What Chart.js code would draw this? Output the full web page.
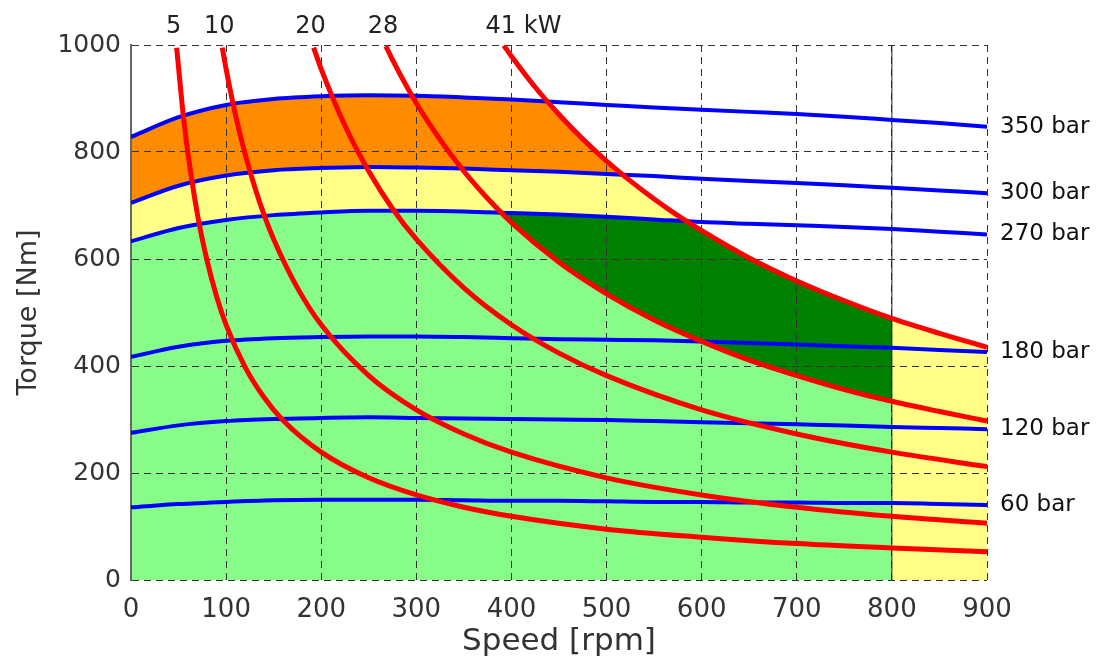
<!DOCTYPE html>
<html>
<head>
<meta charset="utf-8">
<title>Torque / speed map</title>
<script src="https://cdn.jsdelivr.net/npm/chart.js@4.4.1/dist/chart.umd.min.js"></script>
<style>
  html, body { margin: 0; padding: 0; background: #fff; }
</style>
</head>
<body>
<canvas id="torqueChart" width="1105" height="656"></canvas>
<script>
// speed grid of the pressure curves [rpm]
var speeds = [0, 50, 100, 150, 200, 250, 300, 350, 400, 450, 500, 550, 600, 650, 700, 750, 800, 850, 900];

// torque at constant pressure [Nm]
var bar350 = [828, 865, 888, 899, 904, 906, 905, 902, 898, 893, 888, 883, 879, 875, 871, 866, 860, 854, 847];
var bar300 = [705, 737, 756, 766, 770, 772, 771, 769, 766, 763, 759, 755, 750, 746, 742, 738, 733, 728, 723];
var bar270 = [633, 658, 673, 682, 687, 690, 690, 689, 686, 683, 679, 674, 669, 666, 663, 660, 656, 651, 646];
var bar180 = [417, 436, 447, 452, 454, 455, 455, 454, 452, 450, 449, 448, 446, 443, 440, 437, 434, 430, 426];
var bar120 = [275, 289, 297, 301, 303, 304, 303, 302, 301, 300, 299, 297, 295, 293, 291, 289, 286, 284, 282];
var bar60  = [136, 142, 146, 149, 150, 150, 150, 149, 148, 148, 147, 146, 146, 145, 145, 144, 144, 142, 140];

// constant power lines
var kw5Speed   = [48, 55, 60, 70, 80, 90, 100, 120, 140, 160, 200, 250, 300, 350, 400, 500, 600, 700, 800, 900];
var kw5Torque  = [995, 868, 796, 682, 597, 530, 477, 398, 341, 298, 239, 191, 159, 136, 119, 95, 80, 68, 60, 53];
var kw10Speed  = [96, 100, 110, 120, 130, 140, 150, 175, 200, 250, 300, 350, 400, 500, 600, 700, 800, 900];
var kw10Torque = [995, 955, 868, 796, 735, 682, 637, 546, 477, 382, 318, 273, 239, 191, 159, 136, 119, 106];
var kw20Speed  = [192, 200, 225, 250, 275, 300, 350, 400, 450, 500, 600, 700, 800, 900];
var kw20Torque = [995, 955, 849, 764, 694, 637, 546, 477, 424, 382, 318, 273, 239, 212];
var kw28Speed  = [268, 275, 300, 325, 350, 375, 400, 450, 500, 550, 600, 650, 700, 750, 800, 850, 900];
var kw28Torque = [998, 972, 891, 823, 764, 713, 668, 594, 535, 486, 446, 411, 382, 356, 334, 315, 297];
var kw41Speed  = [392, 400, 425, 450, 475, 500, 525, 550, 575, 600, 650, 700, 750, 800, 850, 900];
var kw41Torque = [999, 979, 921, 870, 824, 783, 746, 712, 681, 653, 602, 559, 522, 489, 461, 435];

var powerValues = [5, 10, 20, 28, 41];
var pressureLabels = ['350 bar', '300 bar', '270 bar', '180 bar', '120 bar', '60 bar'];
var ratedSpeed = 800;

var xTicks = [0, 100, 200, 300, 400, 500, 600, 700, 800, 900];
var yTicks = [0, 200, 400, 600, 800, 1000];

var font = 'DejaVu Sans';

function pts(xs, ys) {
  return xs.map(function (x, i) { return { x: x, y: ys[i] }; });
}
function upTo(points, xmax) {
  return points.filter(function (p) { return p.x <= xmax; });
}

var powerCurves = [
  { kw: powerValues[0], speed: kw5Speed, torque: kw5Torque },
  { kw: powerValues[1], speed: kw10Speed, torque: kw10Torque },
  { kw: powerValues[2], speed: kw20Speed, torque: kw20Torque },
  { kw: powerValues[3], speed: kw28Speed, torque: kw28Torque },
  { kw: powerValues[4], speed: kw41Speed, torque: kw41Torque }
];
var pressureCurves = [bar350, bar300, bar270, bar180, bar120, bar60].map(function (t, i) {
  return { label: pressureLabels[i], torque: t };
});

var datasets = [];

// red power lines (drawn on top)
powerCurves.forEach(function (c, i) {
  var last = i === powerCurves.length - 1;
  datasets.push({
    label: c.kw + ' kW',
    data: pts(c.speed, c.torque),
    borderColor: '#ff0000',
    borderWidth: 5,
    pointRadius: 0,
    cubicInterpolationMode: 'monotone',
    // everything above the highest power line is left white
    fill: last ? 'end' : false,
    backgroundColor: '#ffffff',
    order: 0
  });
});
var kw28Index = 3;

// blue pressure lines
pressureCurves.forEach(function (c) {
  datasets.push({
    label: c.label,
    data: pts(speeds, c.torque),
    borderColor: '#0000ff',
    borderWidth: 4,
    pointRadius: 0,
    cubicInterpolationMode: 'monotone',
    fill: false,
    order: 1
  });
});

// rated speed limit
datasets.push({
  label: 'rated speed',
  data: [{ x: ratedSpeed, y: yTicks[0] }, { x: ratedSpeed, y: yTicks[yTicks.length - 1] }],
  borderColor: '#222',
  borderWidth: 1,
  pointRadius: 0,
  fill: false,
  order: 1
});

// coloured areas (fills only)
function area(label, data, fill, color, order) {
  return {
    label: label,
    data: data,
    borderWidth: 0,
    borderColor: 'rgba(0,0,0,0)',
    pointRadius: 0,
    cubicInterpolationMode: 'monotone',
    fill: fill,
    backgroundColor: color,
    order: order
  };
}
datasets.push(area('300-350 bar', pts(speeds, bar350), 'origin', '#ff8c00', 5));
datasets.push(area('270-300 bar', pts(speeds, bar300), 'origin', '#ffff88', 4));
datasets.push(area('0-270 bar', upTo(pts(speeds, bar270), ratedSpeed), 'origin', '#88fc88', 3));
datasets.push(area('28-41 kW', upTo(pts(speeds, bar270), ratedSpeed),
  { target: kw28Index, above: '#008000', below: 'rgba(0,0,0,0)' }, 'rgba(0,0,0,0)', 2));

// the fills are painted before the lines, so curve control points must exist first
var curvePrep = {
  id: 'curvePrep',
  afterUpdate: function (chart) {
    chart.data.datasets.forEach(function (d, i) {
      var meta = chart.getDatasetMeta(i);
      if (meta.dataset) meta.dataset.updateControlPoints(chart.chartArea, 'x');
    });
  }
};

var curveLabels = {
  id: 'curveLabels',
  afterDraw: function (chart) {
    var ctx = chart.ctx, box = chart.chartArea;
    var xs = chart.scales.x, ys = chart.scales.y;
    ctx.save();
    ctx.textBaseline = 'middle';
    ctx.textAlign = 'left';
    ctx.fillStyle = '#111';
    ctx.font = '23px "' + font + '"';
    pressureCurves.forEach(function (c) {
      ctx.fillText(c.label, box.right + 13, ys.getPixelForValue(c.torque[c.torque.length - 1]));
    });
    ctx.font = '24px "' + font + '"';
    ctx.fillStyle = '#222';
    powerCurves.forEach(function (c, i) {
      var x = xs.getPixelForValue(c.speed[0]) - 3;
      var txt = String(c.kw);
      ctx.textAlign = 'center';
      ctx.fillText(txt, x, box.top - 18);
      if (i === powerCurves.length - 1) {
        ctx.textAlign = 'left';
        ctx.fillText(' kW', x + ctx.measureText(txt).width / 2, box.top - 18);
      }
    });
    ctx.restore();
  }
};

function plain(v) { return String(v); }

new Chart(document.getElementById('torqueChart'), {
  type: 'line',
  data: { datasets: datasets },
  plugins: [curvePrep, curveLabels],
  options: {
    responsive: false,
    animation: false,
    layout: { padding: { top: 45, right: 118, left: 0, bottom: 0 } },
    plugins: {
      legend: { display: false },
      tooltip: { enabled: false },
      filler: { drawTime: 'beforeDraw' }
    },
    scales: {
      x: {
        type: 'linear',
        min: xTicks[0],
        max: xTicks[xTicks.length - 1],
        afterBuildTicks: function (s) { s.ticks = xTicks.map(function (v) { return { value: v }; }); },
        ticks: { color: '#333', font: { family: font, size: 26 }, padding: 15, maxRotation: 0, callback: plain },
        grid: { color: '#333', lineWidth: 1, drawTicks: false },
        border: { display: false, dash: [7, 5] },
        title: {
          display: true, text: 'Speed [rpm]', color: '#333',
          font: { family: font, size: 31, lineHeight: 1 }, padding: { top: 0, bottom: -1 }
        },
        afterFit: function (s) { s.height = 76; }
      },
      y: {
        type: 'linear',
        min: yTicks[0],
        max: yTicks[yTicks.length - 1],
        afterBuildTicks: function (s) { s.ticks = yTicks.map(function (v) { return { value: v }; }); },
        ticks: { color: '#333', font: { family: font, size: 25 }, padding: 10, callback: plain },
        grid: { color: '#333', lineWidth: 1, drawTicks: false },
        border: { display: true, color: '#666', width: 2, dash: [7, 5] },
        title: {
          display: true, text: 'Torque [Nm]', color: '#333',
          font: { family: font, size: 27, lineHeight: 1 }, padding: { top: 15, bottom: 0 }
        },
        afterFit: function (s) { s.width = 131; }
      }
    }
  }
});
</script>
</body>
</html>
